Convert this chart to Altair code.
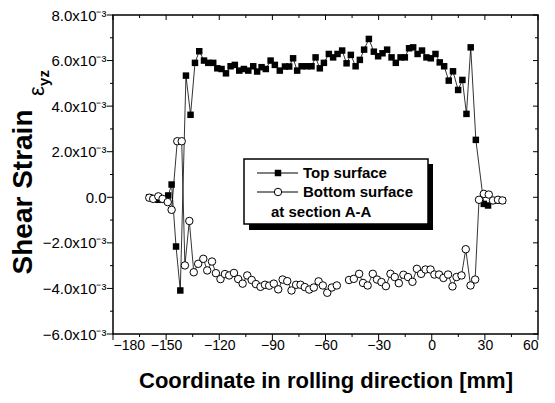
import altair as alt
import pandas as pd

# Coordinate in rolling direction [mm] and shear strain (in units of 1e-3)
top_x = [-159.5, -157.3, -154.4, -151.6, -148.8, -146.9, -144.4, -142.0, -138.8, -136.2,
         -133.7, -131.3, -128.6, -126.2, -123.4, -121.1, -118.7, -116.2, -113.6, -111.2,
         -108.7, -106.1, -103.6, -100.8, -98.6, -96.1, -93.7, -91.0, -88.6, -85.8,
         -82.9, -80.5, -78.3, -76.0, -73.5, -70.7, -67.9, -65.6, -63.2, -60.9,
         -58.1, -55.7, -53.2, -50.6, -48.1, -45.7, -43.0, -40.6, -38.2, -35.5,
         -32.7, -30.3, -27.8, -25.2, -22.7, -20.3, -17.6, -15.2, -12.8, -10.5,
         -8.0, -5.5, -3.0, -0.5, 2.1, 4.5, 7.0, 9.6, 12.0, 14.9,
         17.3, 19.6, 22.0, 24.9, 29.4, 31.8, 34.6, 37.4, 39.9]
top_y = [0.0, -0.05, -0.11, -0.11, 0.08, 0.56, -2.16, -4.09, 5.34, 3.62,
         5.90, 6.41, 6.00, 5.90, 5.90, 5.66, 5.63, 5.44, 5.75, 5.81,
         5.56, 5.63, 5.56, 5.75, 5.52, 5.71, 5.63, 6.00, 5.81, 5.56,
         5.74, 5.74, 6.10, 5.56, 5.75, 5.75, 5.75, 6.14, 5.66, 5.90,
         6.29, 6.14, 6.29, 6.44, 5.88, 6.25, 5.75, 6.03, 6.48, 6.95,
         6.39, 6.19, 6.32, 6.48, 6.14, 5.90, 6.14, 6.14, 6.54, 6.58,
         6.29, 6.44, 6.14, 6.10, 6.29, 5.92, 5.75, 5.12, 5.53, 4.71,
         5.15, 3.66, 6.58, 2.52, -0.29, -0.36, -0.14, -0.14, -0.14]

bot_x = [-159.5, -157.3, -154.4, -152.0, -149.1, -146.9, -143.7, -141.2, -139.4, -136.9,
         -134.4, -131.9, -129.0, -126.8, -124.1, -121.9, -119.3, -116.8, -114.4, -111.7,
         -109.3, -106.8, -104.2, -101.7, -99.3, -96.7, -94.2, -91.8, -89.2, -86.7,
         -84.2, -81.6, -79.2, -76.6, -74.1, -71.7, -69.2, -66.6, -63.9, -61.5,
         -59.0, -56.4, -53.6, -46.7, -44.0, -41.0, -38.8, -36.2, -33.3, -30.9,
         -28.4, -25.9, -23.3, -20.9, -18.6, -16.0, -13.4, -10.9, -8.4, -6.0,
         -3.5, -0.7, 1.5, 4.1, 6.6, 9.2, 11.7, 14.0, 16.8, 19.2,
         21.9, 24.5, 26.7, 29.4, 32.2, 34.6, 37.4, 39.9]
bot_y = [-0.02, -0.07, 0.04, -0.07, -0.21, -0.55, 2.46, 2.46, -2.99, -1.04,
         -3.29, -2.92, -2.70, -3.21, -2.82, -3.33, -3.59, -3.37, -3.43, -3.32,
         -3.59, -3.79, -3.43, -3.63, -3.81, -3.93, -3.84, -3.88, -3.79, -4.04,
         -3.61, -3.68, -4.09, -3.84, -3.84, -3.94, -4.05, -3.96, -3.69, -3.87,
         -4.19, -3.96, -3.87, -3.63, -3.58, -3.36, -3.76, -3.87, -3.36, -3.61,
         -3.72, -3.90, -3.36, -3.50, -3.77, -3.40, -3.50, -3.71, -3.14, -3.36,
         -3.17, -3.17, -3.39, -3.39, -3.54, -3.39, -3.91, -3.50, -3.43, -2.28,
         -3.87, -3.61, -0.11, 0.15, 0.12, -0.14, -0.11, -0.14]
bot_break_after = -53.6  # the bottom-surface curve is interrupted after this point

x_major = [-180, -150, -120, -90, -60, -30, 0, 30, 60]
x_minor = [-165, -135, -105, -75, -45, -15, 15, 45]
y_major = [-6, -4, -2, 0, 2, 4, 6, 8]
y_minor = [-5, -3, -1, 1, 3, 5, 7]

legend_labels = ["Top surface", "Bottom surface", "at section A-A"]

FONT = "Liberation Sans"
W, H = 425, 319

top_df = pd.DataFrame({"x": top_x, "y": top_y})
bot_df = pd.DataFrame({"x": bot_x, "y": bot_y})
bot_df["seg"] = (bot_df["x"] > bot_break_after).astype(int)

xs = alt.Scale(domain=[-180, 60], nice=False, zero=False)
ys = alt.Scale(domain=[-6, 8], nice=False, zero=False)

x_axis = alt.Axis(values=x_major, ticks=False, tickSize=0, grid=False, domain=False,
                  labelFont=FONT, labelFontSize=14, labelColor="black", labelPadding=4,
                  title="Coordinate in rolling direction [mm]", titleFont=FONT,
                  titleFontSize=22, titleFontWeight="bold", titleColor="black",
                  titlePadding=18)
y_axis = alt.Axis(values=y_major, ticks=False, tickSize=0, grid=False, domain=False,
                  labelFont=FONT, labelFontSize=15, labelColor="black", labelPadding=7,
                  labelExpr="datum.value === 0 ? '0.0' : format(datum.value, '.1f') + 'x10\u207b\u00b3'",
                  title=None)


def X(field):
    return alt.X(field, scale=xs, axis=x_axis)


def Y(field):
    return alt.Y(field, scale=ys, axis=y_axis)


top_line = alt.Chart(top_df).mark_line(color="black", strokeWidth=0.8).encode(
    x=X("x:Q"), y=Y("y:Q"))
top_pts = alt.Chart(top_df).mark_point(shape="square", filled=True, color="black",
                                       size=42, opacity=1).encode(x=X("x:Q"), y=Y("y:Q"))
bot_line = alt.Chart(bot_df).mark_line(color="black", strokeWidth=0.8).encode(
    x=X("x:Q"), y=Y("y:Q"), detail="seg:N")
bot_pts = alt.Chart(bot_df).mark_point(shape="circle", filled=True, fill="white",
                                       stroke="black", strokeWidth=1, size=56,
                                       opacity=1).encode(x=X("x:Q"), y=Y("y:Q"))


def xticks(vals, y0, y1):
    return alt.Chart(pd.DataFrame({"x": vals})).mark_rule(color="black", strokeWidth=1).encode(
        x=X("x:Q"), y=alt.value(y0), y2=alt.value(y1))


def yticks(vals, x0, x1):
    return alt.Chart(pd.DataFrame({"y": vals})).mark_rule(color="black", strokeWidth=1).encode(
        y=Y("y:Q"), x=alt.value(x0), x2=alt.value(x1))


ticks = [
    xticks(x_major, H, H + 6), xticks(x_minor, H, H + 3),
    xticks(x_major, 0, 5), xticks(x_minor, 0, 3),
    yticks(y_major, 0, -6), yticks(y_minor, 0, -3),
    yticks(y_major, W, W - 5), yticks(y_minor, W, W - 3),
]

one = pd.DataFrame({"a": [0]})

ytitle = alt.Chart(one).mark_text(text="Shear Strain", angle=270, font=FONT, fontSize=28,
                                  fontWeight="bold", color="black", align="center",
                                  baseline="middle").encode(x=alt.value(-89), y=alt.value(177))
yeps = alt.Chart(one).mark_text(text="\u03b5", angle=270, font=FONT, fontSize=22,
                                color="black", align="center",
                                baseline="middle").encode(x=alt.value(-76), y=alt.value(76))
ysub = alt.Chart(one).mark_text(text="yz", angle=270, font=FONT, fontSize=15,
                                fontWeight="bold", color="black", align="center",
                                baseline="middle").encode(x=alt.value(-69), y=alt.value(63))

shadow = alt.Chart(one).mark_rect(color="black").encode(
    x=alt.value(136), x2=alt.value(320), y=alt.value(149), y2=alt.value(215))
box = alt.Chart(one).mark_rect(fill="white", stroke="black", strokeWidth=1.5).encode(
    x=alt.value(131), x2=alt.value(315), y=alt.value(144), y2=alt.value(209))
leg_l1 = alt.Chart(one).mark_rule(color="black", strokeWidth=1).encode(
    x=alt.value(144), x2=alt.value(185), y=alt.value(158))
leg_l2 = alt.Chart(one).mark_rule(color="black", strokeWidth=1).encode(
    x=alt.value(144), x2=alt.value(185), y=alt.value(177))
leg_sq = alt.Chart(one).mark_point(shape="square", filled=True, color="black", size=42,
                                   opacity=1).encode(x=alt.value(165), y=alt.value(158))
leg_ci = alt.Chart(one).mark_point(shape="circle", filled=True, fill="white", stroke="black",
                                   strokeWidth=1, size=56, opacity=1).encode(
    x=alt.value(165), y=alt.value(177))


def ltext(t, x, y):
    return alt.Chart(one).mark_text(text=t, font=FONT, fontSize=15, fontWeight="bold",
                                    color="black", align="left", baseline="middle").encode(
        x=alt.value(x), y=alt.value(y))


legend = [shadow, box, leg_l1, leg_l2, leg_sq, leg_ci,
          ltext(legend_labels[0], 190, 158), ltext(legend_labels[1], 190, 177),
          ltext(legend_labels[2], 158, 197)]

chart = alt.layer(top_line, top_pts, bot_line, bot_pts, *ticks, ytitle, yeps, ysub,
                  *legend).properties(
    width=W, height=H,
    padding={"left": 113, "top": 15, "right": 17, "bottom": 69},
    autosize=alt.AutoSizeParams(type="none"),
    background="white",
).configure_view(stroke="black", strokeWidth=1.5)

chart.save("out.html", embed_options={"renderer": "svg", "actions": False})
